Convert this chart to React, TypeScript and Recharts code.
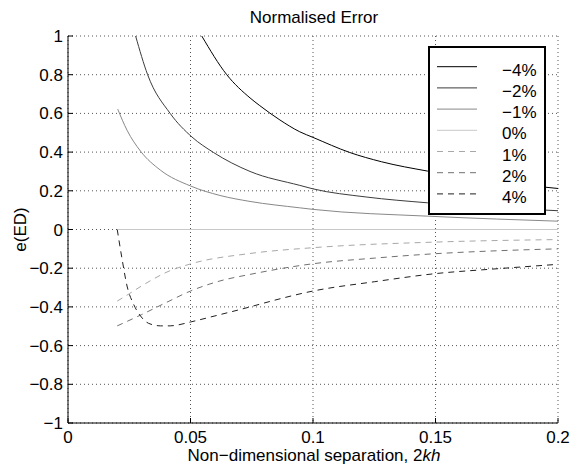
import { LineChart, Line, XAxis, YAxis, CartesianGrid, Legend, Label } from "recharts";

// x positions / values, one pair of arrays per series
const xM4 = [0.0546, 0.0648, 0.0743, 0.0783, 0.0865, 0.0946, 0.1, 0.115, 0.128, 0.1467, 0.17, 0.2];
const yM4 = [1, 0.8, 0.68, 0.64, 0.566, 0.505, 0.476, 0.398, 0.35, 0.302, 0.255, 0.212];

const xM2 = [0.0276, 0.0325, 0.0417, 0.0506, 0.0594, 0.0743, 0.0946, 0.1, 0.1217, 0.1467, 0.17, 0.2];
const yM2 = [1, 0.8, 0.6, 0.478, 0.398, 0.3, 0.228, 0.21, 0.168, 0.138, 0.117, 0.097];

const xM1 = [0.0203, 0.0241, 0.0296, 0.0377, 0.05, 0.062, 0.0743, 0.0946, 0.1, 0.1467, 0.175, 0.2];
const yM1 = [0.622, 0.513, 0.405, 0.307, 0.225, 0.176, 0.145, 0.112, 0.104, 0.069, 0.054, 0.043];

const xZero = [0.0203, 0.2];
const yZero = [0, 0];

const xP1 = [0.0201, 0.025, 0.03, 0.035, 0.04, 0.05, 0.0743, 0.1, 0.15, 0.2];
const yP1 = [-0.37, -0.332, -0.292, -0.255, -0.222, -0.178, -0.124, -0.094, -0.065, -0.052];

const xP2 = [0.0201, 0.03, 0.04, 0.05, 0.062, 0.0743, 0.1, 0.125, 0.15, 0.175, 0.2];
const yP2 = [-0.498, -0.44, -0.378, -0.318, -0.266, -0.232, -0.177, -0.148, -0.125, -0.11, -0.1];

const xP4 = [0.0201, 0.0221, 0.0241, 0.0268, 0.0296, 0.0329, 0.0377, 0.0417, 0.0445, 0.05, 0.0539, 0.062, 0.0743, 0.0783, 0.1, 0.125, 0.15, 0.175, 0.2];
const yP4 = [0, -0.155, -0.292, -0.387, -0.447, -0.485, -0.498, -0.498, -0.494, -0.478, -0.466, -0.44, -0.4, -0.386, -0.318, -0.27, -0.228, -0.203, -0.18];

const xTicks = [0, 0.05, 0.1, 0.15, 0.2];
const yTicks = [-1, -0.8, -0.6, -0.4, -0.2, 0, 0.2, 0.4, 0.6, 0.8, 1];

const toPoints = (xs: number[], ys: number[]) => xs.map((x, i) => ({ x, y: ys[i] }));

const series = [
  { name: "\u22124%", data: toPoints(xM4, yM4), color: "#000000", dash: undefined },
  { name: "\u22122%", data: toPoints(xM2, yM2), color: "#3c3c3c", dash: undefined },
  { name: "\u22121%", data: toPoints(xM1, yM1), color: "#888888", dash: undefined },
  { name: "0%", data: toPoints(xZero, yZero), color: "#c8c8c8", dash: undefined },
  { name: "1%", data: toPoints(xP1, yP1), color: "#a8a8a8", dash: "6 5" },
  { name: "2%", data: toPoints(xP2, yP2), color: "#707070", dash: "6 5" },
  { name: "4%", data: toPoints(xP4, yP4), color: "#202020", dash: "6 5" },
];

const FONT = "'Liberation Sans', Arial, Helvetica, sans-serif";

const fmtY = (v: number) => (v < 0 ? "\u2212" + Math.abs(v) : String(v));

function LegendBox() {
  return (
    <svg width={118} height={169} style={{ display: "block" }}>
      <rect x={1} y={1} width={116} height={167} fill="#fff" stroke="#000" strokeWidth={2} />
      {series.map((s, i) => {
        const y = 20.7 + i * 21.2;
        return (
          <g key={s.name}>
            <line x1={9} x2={49} y1={y} y2={y} stroke={s.color} strokeWidth={1} strokeDasharray={s.dash} />
            <text x={74} y={y + 9} fontSize={17} fill="#000" fontFamily={FONT}>
              {s.name}
            </text>
          </g>
        );
      })}
    </svg>
  );
}

export default function App() {
  return (
    <div style={{ position: "absolute", left: 0, top: 0, width: 571, height: 466, background: "#fff", fontFamily: FONT }}>
      <LineChart width={571} height={466} margin={{ top: 36, right: 13, bottom: 0, left: 0 }}>
        <CartesianGrid stroke="#555" strokeDasharray="1 3" />
        <XAxis
          dataKey="x"
          type="number"
          domain={[0, 0.2]}
          ticks={xTicks}
          interval={0}
          allowDataOverflow
          height={43}
          stroke="#000"
          tickSize={-5}
          tickMargin={13}
          tick={{ fontSize: 17, fill: "#000" }}
        >
          <Label
            content={(props: any) => {
              const vb = props.viewBox || { x: 68, y: 423, width: 490 };
              return (
                <text x={vb.x + vb.width / 2 + 1} y={461} textAnchor="middle" fontSize={17} fill="#000" fontFamily={FONT}>
                  <tspan>Non{"\u2212"}dimensional separation, 2</tspan>
                  <tspan fontStyle="italic">kh</tspan>
                </text>
              );
            }}
          />
        </XAxis>
        <YAxis
          type="number"
          domain={[-1, 1]}
          ticks={yTicks}
          interval={0}
          allowDataOverflow
          width={68}
          stroke="#000"
          tickSize={-5}
          tickMargin={10}
          tickFormatter={fmtY}
          tick={{ fontSize: 17, fill: "#000" }}
        >
          <Label
            content={(props: any) => {
              const vb = props.viewBox || { x: 0, y: 36, height: 387 };
              const cx = 26;
              const cy = vb.y + vb.height / 2;
              return (
                <text x={cx} y={cy} transform={`rotate(-90, ${cx}, ${cy})`} textAnchor="middle" fontSize={17} fill="#000" fontFamily={FONT}>
                  e(ED)
                </text>
              );
            }}
          />
        </YAxis>
        {series.map((s) => (
          <Line
            key={s.name}
            name={s.name}
            data={s.data}
            dataKey="y"
            type="monotone"
            stroke={s.color}
            strokeWidth={1}
            strokeDasharray={s.dash}
            dot={false}
            activeDot={false}
            isAnimationActive={false}
          />
        ))}
        <Legend
          layout="vertical"
          align="center"
          verticalAlign="middle"
          content={() => <LegendBox />}
          wrapperStyle={{ position: "absolute", left: 428, top: 46, width: 118, height: 169 }}
        />
      </LineChart>
      <svg width={571} height={30} style={{ position: "absolute", left: 0, top: 0, pointerEvents: "none" }}>
        <text x={314} y={23} textAnchor="middle" fontSize={17} fill="#000" fontFamily={FONT}>
          Normalised Error
        </text>
      </svg>
    </div>
  );
}
